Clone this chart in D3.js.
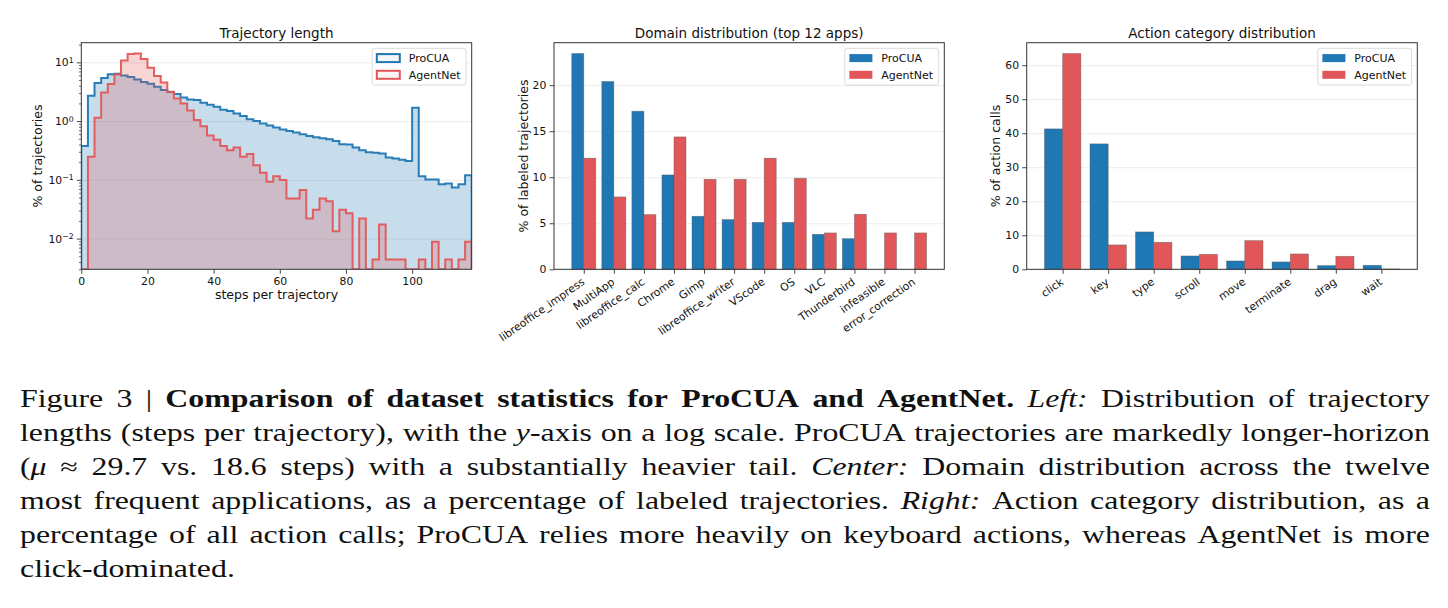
<!DOCTYPE html>
<html><head><meta charset="utf-8">
<script src="https://cdn.jsdelivr.net/npm/d3@7"></script>
<style>body{margin:0;background:#fff} svg{display:block}</style>
</head><body>
<svg id="fig" width="1448" height="608"></svg>
<script>
// ---------------- DATA ----------------
const seriesNames = ["ProCUA", "AgentNet"];

// Trajectory-length histogram: bins of width 2 steps, starting at 0 (% of trajectories)
const histBinWidth = 2;
const procuaHist = [0.375, 2.70, 4.45, 5.41, 6.3, 6.4, 6.0, 5.62, 5.13, 4.62,
  4.33, 3.85, 3.37, 3.12, 2.88, 2.53, 2.34, 2.28, 2.05, 1.90,
  1.75, 1.56, 1.48, 1.35, 1.22, 1.07, 1.0, 0.91, 0.84, 0.78,
  0.72, 0.68, 0.64, 0.60, 0.56, 0.53, 0.51, 0.49, 0.46, 0.405,
  0.40, 0.356, 0.32, 0.296, 0.29, 0.28, 0.24, 0.23, 0.22, 0.209,
  1.69, 0.115, 0.101, 0.101, 0.084, 0.087, 0.074, 0.084, 0.12];
const agentnetHist = [0, 0.247, 1.14, 3.08, 4.27, 6.24, 10.7, 13.9, 14.2, 11.4,
  8.1, 5.85, 4.56, 3.16, 2.43, 2.0, 1.51, 1.04, 0.82, 0.57,
  0.48, 0.375, 0.32, 0.356, 0.247, 0.274, 0.178, 0.132, 0.093, 0.115,
  0.099, 0.048, 0.048, 0.067, 0.022, 0.031, 0.048, 0.043, 0.0133, 0.031,
  0.027, 0, 0.022, 0, 0.0044, 0.0174, 0.0044, 0.0044, 0.0044, 0,
  0, 0.0044, 0, 0.0088, 0, 0.0044, 0, 0.0044, 0.0088];
const histXTicks = [0, 20, 40, 60, 80, 100];
const histYTicks = [1e-2, 1e-1, 1e0, 1e1];

// Domain distribution (top 12 apps), % of labeled trajectories
const apps = ["libreoffice_impress", "MultiApp", "libreoffice_calc", "Chrome", "Gimp",
  "libreoffice_writer", "VScode", "OS", "VLC", "Thunderbird", "infeasible", "error_correction"];
const appProCUA = [23.44, 20.4, 17.17, 10.25, 5.76, 5.4, 5.1, 5.1, 3.8, 3.33, 0, 0];
const appAgentNet = [12.07, 7.86, 5.94, 14.38, 9.78, 9.78, 12.07, 9.89, 3.95, 5.98, 3.95, 3.95];
const appYTicks = [0, 5, 10, 15, 20];

// Action category distribution, % of action calls
const actions = ["click", "key", "type", "scroll", "move", "terminate", "drag", "wait"];
const actProCUA = [41.27, 36.86, 10.98, 3.92, 2.45, 2.16, 1.08, 1.18];
const actAgentNet = [63.43, 7.16, 7.94, 4.41, 8.43, 4.51, 3.82, 0.1];
const actYTicks = [0, 10, 20, 30, 40, 50, 60];

const titles = ["Trajectory length", "Domain distribution (top 12 apps)", "Action category distribution"];
const yLabels = ["% of trajectories", "% of labeled trajectories", "% of action calls"];
const histXLabel = "steps per trajectory";

const captionLines = [
  [["Figure 3 | ", "n"], ["Comparison of dataset statistics for ProCUA and AgentNet.", "b"], [" ", "n"], ["Left:", "i"], [" Distribution of trajectory", "n"]],
  [["lengths (steps per trajectory), with the ", "n"], ["y", "i"], ["-axis on a log scale. ProCUA trajectories are markedly longer-horizon", "n"]],
  [["(", "n"], ["μ", "i"], [" ≈ 29.7 vs. 18.6 steps) with a substantially heavier tail. ", "n"], ["Center:", "i"], [" Domain distribution across the twelve", "n"]],
  [["most frequent applications, as a percentage of labeled trajectories. ", "n"], ["Right:", "i"], [" Action category distribution, as a", "n"]],
  [["percentage of all action calls; ProCUA relies more heavily on keyboard actions, whereas AgentNet is more", "n"]],
  [["click-dominated.", "n"]]
];

// ---------------- LAYOUT ----------------
const svg = d3.select("#fig");
const FONT = "DejaVu Sans, sans-serif";
const C_BLUE = "#1f77b4", C_RED = "#e15759";
const TOP = 42.7, BOT = 269.3;
const panels = [{l: 81.3, r: 471.7}, {l: 554, r: 944.3}, {l: 1026.7, r: 1417.3}];
const yLabelX = [41.5, 527.8, 999.5];
const TICK = 4.5, PAD = 3.2, TICKFS = 10.8;

function styleAxis(g) {
  g.select(".domain").remove();
  g.selectAll(".tick line").attr("stroke", "#333").attr("stroke-width", 0.9);
  g.selectAll(".tick text").attr("fill", "#111").attr("font-size", TICKFS).attr("font-family", FONT);
}
function frame(p) {
  svg.append("rect").attr("x", p.l).attr("y", TOP).attr("width", p.r - p.l).attr("height", BOT - TOP)
    .attr("fill", "none").attr("stroke", "#333").attr("stroke-width", 1);
}
function grid(p, y, ticks) {
  const g = svg.append("g").attr("transform", `translate(${p.l},0)`)
    .call(d3.axisLeft(y).tickValues(ticks).tickSize(-(p.r - p.l)).tickFormat(""));
  g.select(".domain").remove();
  g.selectAll(".tick line").attr("stroke", "#b0b0b0").attr("stroke-opacity", 0.3).attr("stroke-width", 0.8);
}
function title(i) {
  const p = panels[i];
  svg.append("text").attr("x", (p.l + p.r) / 2).attr("y", 37.5).attr("text-anchor", "middle")
    .attr("font-family", FONT).attr("font-size", 13.5).attr("fill", "#111").text(titles[i]);
}
function ylabel(i) {
  const cy = (TOP + BOT) / 2;
  svg.append("text").attr("transform", `translate(${yLabelX[i]},${cy}) rotate(-90)`)
    .attr("text-anchor", "middle").attr("font-family", FONT).attr("font-size", 12.5).attr("fill", "#111").text(yLabels[i]);
}
function legend(p, filled) {
  const w = 93.8, h = 36.7, left = p.r - 5.7 - w, top = 48.3;
  const g = svg.append("g");
  g.append("rect").attr("x", left).attr("y", top).attr("width", w).attr("height", h).attr("rx", 2.5)
    .attr("fill", "#fff").attr("fill-opacity", 0.8).attr("stroke", "#d6d6d6").attr("stroke-width", 0.9);
  [C_BLUE, C_RED].forEach((c, k) => {
    const yy = top + 5.8 + k * 16.7;
    if (filled) {
      g.append("rect").attr("x", left + 4.6).attr("y", yy).attr("width", 23).attr("height", 8).attr("fill", c);
    } else {
      g.append("rect").attr("x", left + 4.6).attr("y", yy).attr("width", 23).attr("height", 8)
        .attr("fill", c).attr("fill-opacity", 0.06).attr("stroke", c).attr("stroke-width", 2);
    }
    g.append("text").attr("x", left + 36.5).attr("y", yy + 8).attr("font-family", FONT).attr("font-size", 11)
      .attr("fill", "#111").text(seriesNames[k]);
  });
}

// ---------------- PANEL 1: histogram ----------------
(function () {
  const p = panels[0];
  const nb = procuaHist.length;
  const xMax = nb * histBinWidth;
  const x = d3.scaleLinear().domain([0, xMax]).range([p.l, p.r]);
  const y = d3.scaleLog().domain([0.003, 21.6]).range([BOT, TOP]).clamp(true);
  grid(p, y, histYTicks);

  const defs = svg.append("defs");
  defs.append("clipPath").attr("id", "clipHist").append("rect")
    .attr("x", p.l).attr("y", TOP).attr("width", p.r - p.l).attr("height", BOT - TOP);

  function stepPath(vals) {
    let d = `M${x(0)},${BOT}`;
    vals.forEach((v, i) => {
      const yy = v > 0 ? y(v) : BOT;
      d += `L${x(i * histBinWidth)},${yy}L${x((i + 1) * histBinWidth)},${yy}`;
    });
    d += `L${x(xMax)},${BOT}`;
    return d;
  }
  const cg = svg.append("g").attr("clip-path", "url(#clipHist)");
  [[procuaHist, C_BLUE], [agentnetHist, C_RED]].forEach(([vals, c]) => {
    cg.append("path").attr("d", stepPath(vals) + "Z").attr("fill", c).attr("fill-opacity", 0.25).attr("stroke", "none");
    cg.append("path").attr("d", stepPath(vals)).attr("fill", "none").attr("stroke", c)
      .attr("stroke-width", 2).attr("stroke-opacity", 0.95).attr("stroke-linejoin", "miter");
  });

  // minor ticks
  const minor = [];
  for (let e = -3; e <= 1; e++) for (let k = 2; k <= 9; k++) {
    const v = k * Math.pow(10, e);
    if (v >= 0.003 && v <= 21.6) minor.push(v);
  }
  const gm = svg.append("g").attr("transform", `translate(${p.l},0)`)
    .call(d3.axisLeft(y).tickValues(minor).tickSize(2.4).tickFormat(""));
  styleAxis(gm);
  gm.selectAll(".tick line").attr("stroke-width", 0.7);

  const gy = svg.append("g").attr("transform", `translate(${p.l},0)`)
    .call(d3.axisLeft(y).tickValues(histYTicks).tickSize(TICK).tickPadding(PAD).tickFormat(() => "10"));
  styleAxis(gy);
  gy.selectAll(".tick text").each(function (d) {
    const e = Math.round(Math.log10(d));
    d3.select(this).append("tspan").attr("dy", "-0.45em").attr("font-size", "0.72em")
      .text(e < 0 ? "\u2212" + (-e) : String(e));
  });

  const gx = svg.append("g").attr("transform", `translate(0,${BOT})`)
    .call(d3.axisBottom(x).tickValues(histXTicks).tickSize(TICK).tickPadding(PAD).tickFormat(d3.format("d")));
  styleAxis(gx);

  svg.append("text").attr("x", (p.l + p.r) / 2).attr("y", 298.5).attr("text-anchor", "middle")
    .attr("font-family", FONT).attr("font-size", 12.5).attr("fill", "#111").text(histXLabel);
  frame(p);
  title(0); ylabel(0); legend(p, false);
})();

// ---------------- PANELS 2 & 3: grouped bars ----------------
function barPanel(idx, cats, a, b, yTicks) {
  const p = panels[idx];
  const n = cats.length, bw = 0.4;
  const lo = -bw, hi = n - 1 + bw, m = 0.05 * (hi - lo);
  const x = d3.scaleLinear().domain([lo - m, hi + m]).range([p.l, p.r]);
  const ymax = d3.max(a.concat(b)) * 1.05;
  const y = d3.scaleLinear().domain([0, ymax]).range([BOT, TOP]);
  grid(p, y, yTicks);
  const g = svg.append("g");
  [[a, C_BLUE, -bw], [b, C_RED, 0]].forEach(([vals, c, off]) => {
    g.selectAll(null).data(vals).enter().append("rect")
      .attr("x", (d, i) => x(i + off)).attr("width", (d, i) => x(i + off + bw) - x(i + off))
      .attr("y", d => y(d)).attr("height", d => BOT - y(d))
      .attr("fill", c).attr("stroke", "#555").attr("stroke-opacity", 0.55).attr("stroke-width", 0.7);
  });
  const gy = svg.append("g").attr("transform", `translate(${p.l},0)`)
    .call(d3.axisLeft(y).tickValues(yTicks).tickSize(TICK).tickPadding(PAD).tickFormat(d3.format("d")));
  styleAxis(gy);
  const gx = svg.append("g").attr("transform", `translate(0,${BOT})`)
    .call(d3.axisBottom(x).tickValues(d3.range(n)).tickSize(TICK).tickPadding(PAD).tickFormat(i => cats[i]));
  styleAxis(gx);
  gx.selectAll(".tick text").attr("text-anchor", "end").attr("y", 0).attr("dy", "0.74em")
    .attr("transform", `translate(-3.5,${TICK + PAD}) rotate(-35)`);
  frame(p);
  title(idx); ylabel(idx); legend(p, true);
}
barPanel(1, apps, appProCUA, appAgentNet, appYTicks);
barPanel(2, actions, actProCUA, actAgentNet, actYTicks);

// ---------------- CAPTION ----------------
(function () {
  const capL = 20, capR = 1430, base = 407, step = 34, fs = 24.5, targetGap = 8.5;
  const g = svg.append("g").attr("font-family", "Liberation Serif, 'Times New Roman', serif")
    .attr("font-size", fs).attr("fill", "#111");
  function toWords(segs) {
    const words = []; let cur = [];
    segs.forEach(([t, s]) => {
      t.split(" ").forEach((part, j) => {
        if (j > 0) { if (cur.length) words.push(cur); cur = []; }
        if (part) cur.push([part, s]);
      });
    });
    if (cur.length) words.push(cur);
    return words;
  }
  const lines = captionLines.map((segs, li) => {
    const words = toWords(segs);
    const nodes = words.map(w => {
      const t = g.append("text").attr("x", 0).attr("y", 0);
      w.forEach(([part, s]) => {
        const ts = t.append("tspan").text(part);
        if (s === "b") ts.attr("font-weight", "bold");
        if (s === "i") ts.attr("font-style", "italic");
      });
      return t;
    });
    const widths = nodes.map(nd => nd.node().getComputedTextLength());
    return {nodes, widths, total: d3.sum(widths), yb: base + li * step};
  });
  const justified = lines.slice(0, lines.length - 1);
  const scales = justified.map(L => (capR - capL - targetGap * (L.nodes.length - 1)) / L.total);
  const s = Math.max(1, Math.min(1.3, d3.median(scales)));
  lines.forEach((L, li) => {
    const last = li === lines.length - 1;
    const gap = last ? fs * 0.33 : (capR - capL - s * L.total) / (L.nodes.length - 1);
    let xx = capL;
    L.nodes.forEach((nd, i) => {
      nd.attr("transform", `translate(${xx},${L.yb}) scale(${s},1)`);
      xx += s * L.widths[i] + gap;
    });
  });
})();
</script>
</body></html>
